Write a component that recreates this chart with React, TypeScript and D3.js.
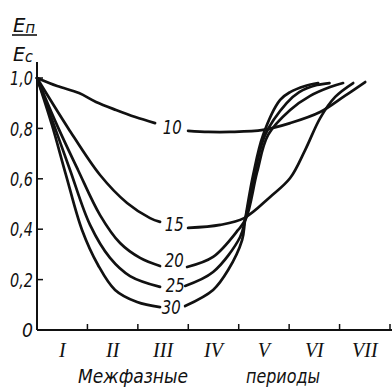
import * as d3 from "d3";

// межфазные периоды I..VII, значения En/Ec для разных концентраций
const periods = ["I", "II", "III", "IV", "V", "VI", "VII"];
const yTicks = [0, 0.2, 0.4, 0.6, 0.8, 1.0];

type Pt = [number, number] | null;

const c10: Pt[] = [
  [0, 1.0], [0.4, 0.968], [0.833, 0.94], [1.17, 0.905], [1.567, 0.873], [1.95, 0.845], [2.341, 0.821],
  null,
  [2.996, 0.79], [3.4, 0.786], [3.829, 0.786], [4.484, 0.794], [5.02, 0.821], [5.615, 0.865], [6.111, 0.93], [6.508, 0.984],
];
const c15: Pt[] = [
  [0, 1.0], [0.615, 0.802], [1.25, 0.615], [1.786, 0.504], [2.242, 0.444], [2.44, 0.429],
  null,
  [2.996, 0.405], [3.631, 0.417], [4.107, 0.444], [4.623, 0.528], [5.02, 0.603], [5.317, 0.714], [5.615, 0.841], [5.913, 0.925], [6.27, 0.98],
];
const c20: Pt[] = [
  [0, 1.0], [0.397, 0.813], [0.813, 0.635], [1.25, 0.456], [1.647, 0.345], [2.044, 0.286], [2.44, 0.254],
  null,
  [2.976, 0.25], [3.492, 0.29], [3.988, 0.397], [4.147, 0.444], [4.365, 0.627], [4.583, 0.774], [5.02, 0.873], [5.417, 0.929], [5.813, 0.964], [6.07, 0.98],
];
const c25: Pt[] = [
  [0, 1.0], [0.337, 0.813], [0.655, 0.635], [1.052, 0.417], [1.448, 0.286], [1.845, 0.214], [2.44, 0.171],
  null,
  [2.937, 0.175], [3.492, 0.23], [4.028, 0.369], [4.127, 0.437], [4.325, 0.627], [4.524, 0.774], [4.95, 0.9], [5.2, 0.944], [5.55, 0.972], [5.8, 0.98],
];
const c30: Pt[] = [
  [0, 1.0], [0.298, 0.813], [0.575, 0.615], [0.893, 0.397], [1.21, 0.258], [1.548, 0.159], [1.984, 0.111], [2.44, 0.091],
  null,
  [2.937, 0.095], [3.492, 0.159], [3.79, 0.238], [4.067, 0.357], [4.127, 0.437], [4.286, 0.615], [4.484, 0.774], [4.821, 0.913], [5.02, 0.944], [5.317, 0.968], [5.575, 0.98],
];

const seriesNames = ["10", "15", "20", "25", "30"];
const seriesData = [c10, c15, c20, c25, c30];
// где стоит подпись кривой (период, значение)
const labelAt: [number, number][] = [[2.68, 0.806], [2.72, 0.42], [2.72, 0.278], [2.74, 0.179], [2.66, 0.091]];

const W = 392;
const H = 388;
const FONT = "'DejaVu Sans', 'Liberation Sans', sans-serif";

export default function App() {
  const x = d3.scaleLinear().domain([0, 7]).range([37, 390]);
  const y = d3.scaleLinear().domain([0, 1]).range([330, 78]);

  const line = d3.line<Pt>()
    .defined(d => d !== null)
    .x(d => x(d![0]))
    .y(d => y(d![1]))
    .curve(d3.curveCatmullRom.alpha(0.5));

  const fmt = (t: number) => (t === 0 ? "0" : t.toFixed(1).replace(".", ","));

  return (
    <svg width={W} height={H} style={{ position: "absolute", left: 0, top: 0, background: "#fff" }}>
      {/* y axis title */}
      <g fontFamily={FONT} fontStyle="italic" fill="#111">
        <text x={13} y={32} fontSize={20} textLength={22} lengthAdjust="spacingAndGlyphs">E<tspan fontSize={15} dy={1}>п</tspan></text>
        <line x1={12} x2={37} y1={35} y2={35} stroke="#111" strokeWidth={1.6} />
        <text x={13} y={61} fontSize={20} textLength={20} lengthAdjust="spacingAndGlyphs">E<tspan fontSize={15} dy={1}>с</tspan></text>
      </g>

      {/* axes */}
      <line x1={x(0)} x2={x(0)} y1={62} y2={y(0)} stroke="#111" strokeWidth={2} />
      <line x1={x(0)} x2={W} y1={y(0)} y2={y(0)} stroke="#111" strokeWidth={2} />
      {yTicks.map(t => (
        <g key={t}>
          <line x1={x(0)} x2={x(0) + 6} y1={y(t)} y2={y(t)} stroke="#111" strokeWidth={1.5} />
          <text x={33} y={y(t)} dy="0.36em" textAnchor="end" fontFamily={FONT} fontStyle="italic" fontSize={20} fill="#111"
            textLength={t === 0 ? 11 : 23} lengthAdjust="spacingAndGlyphs">
            {fmt(t)}
          </text>
        </g>
      ))}
      {periods.map((p, i) => (
        <g key={p}>
          <line x1={x(i + 1)} x2={x(i + 1)} y1={y(0)} y2={y(0) - 6} stroke="#111" strokeWidth={1.5} />
          <text x={x(i + 0.5)} y={357} textAnchor="middle" fontFamily="'Liberation Serif', serif" fontStyle="italic" fontSize={20} fill="#111">{p}</text>
        </g>
      ))}
      <text x={133} y={383} textAnchor="middle" fontFamily={FONT} fontStyle="italic" fontSize={19} fill="#111"
        textLength={110} lengthAdjust="spacingAndGlyphs">Межфазные</text>
      <text x={283} y={383} textAnchor="middle" fontFamily={FONT} fontStyle="italic" fontSize={19} fill="#111"
        textLength={74} lengthAdjust="spacingAndGlyphs">периоды</text>

      {/* curves */}
      {seriesData.map((s, i) => (
        <path key={seriesNames[i]} d={line(s) ?? ""} fill="none" stroke="#111" strokeWidth={2.7} strokeLinecap="round" />
      ))}
      {seriesNames.map((n, i) => (
        <text key={n} x={x(labelAt[i][0])} y={y(labelAt[i][1])} dy="0.36em" textAnchor="middle"
          fontFamily={FONT} fontStyle="italic" fontSize={20} fill="#111"
          textLength={19} lengthAdjust="spacingAndGlyphs">{n}</text>
      ))}
    </svg>
  );
}
